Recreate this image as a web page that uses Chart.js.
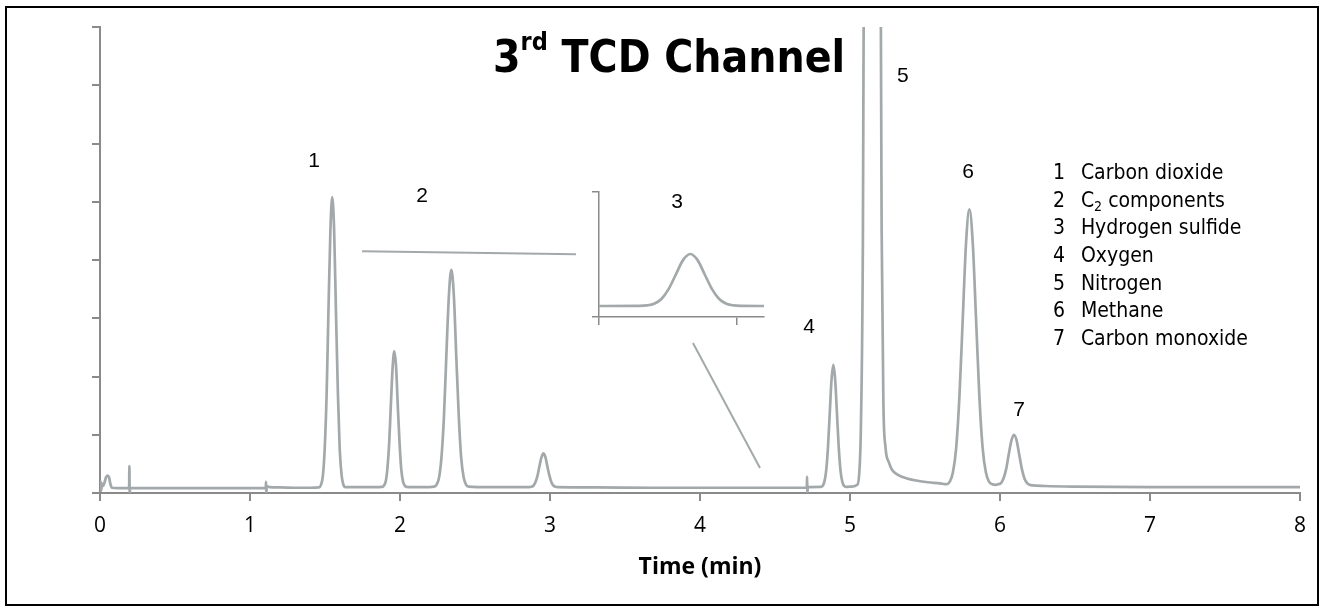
<!DOCTYPE html>
<html>
<head>
<meta charset="utf-8">
<script src="https://cdn.jsdelivr.net/npm/chart.js"></script>
<style>
  body { margin: 0; background: #fff; }
  #wrap { position: relative; width: 1323px; height: 610px; overflow: hidden; }
  #main { position: absolute; left: 0; top: 0; }
  #inset { position: absolute; left: 580px; top: 180px; }
  #frame { position: absolute; left: 5px; top: 6px; width: 1310px; height: 596px; border: 2px solid #000; pointer-events: none; }
  #title { position: absolute; left: 493px; top: 35px; font: bold 44px "DejaVu Sans"; line-height: 1; white-space: nowrap;
           transform: scaleX(0.9); transform-origin: left top; color: #000; }
  #title sup { font-size: 25px; vertical-align: 22px; line-height: 0; }
  #legend { position: absolute; left: 1053px; top: 159px; font: 21px "DejaVu Sans"; line-height: 27.7px; white-space: nowrap;
            transform: scaleX(0.9); transform-origin: left top; color: #000; }
  #legend .row { position: relative; height: 27.7px; }
  #legend .num { position: absolute; left: 0; }
  #legend .name { position: absolute; left: 31px; }
  #legend sub { font-size: 14px; vertical-align: -4px; line-height: 0; }
</style>
</head>
<body>
<div id="wrap">
  <canvas id="main" width="1323" height="610"></canvas>
  <canvas id="inset" width="200" height="160"></canvas>
  <div id="title">3<sup>rd</sup> TCD Channel</div>
  <div id="legend"></div>
  <div id="frame"></div>
</div>
<script>
// chromatogram trace, time in minutes, detector signal in axis units
var time = [
  0.000, 0.004, 0.008, 0.013, 0.020, 0.030, 0.040, 0.050, 0.060, 0.070, 0.080, 0.120,
  0.194, 0.196, 0.198, 0.200, 0.400, 0.700, 1.000,
  1.105, 1.107, 1.109, 1.111, 1.130, 1.200, 1.300, 1.400,
  // 1 carbon dioxide
  1.460, 1.473, 1.486, 1.498, 1.511, 1.523, 1.536, 1.548, 1.561, 1.573, 1.586, 1.598, 1.611, 1.623, 1.636, 1.750,
  // 2 C2 components
  1.882, 1.893, 1.905, 1.916, 1.928, 1.939, 1.951, 1.962, 1.974, 1.985, 1.997, 2.008, 2.020, 2.031, 2.043, 2.150,
  2.227, 2.243, 2.260, 2.276, 2.293, 2.309, 2.326, 2.342, 2.359, 2.375, 2.392, 2.408, 2.425, 2.441, 2.458, 2.600,
  // 3 hydrogen sulfide
  2.862, 2.875, 2.889, 2.902, 2.916, 2.929, 2.943, 2.956, 2.970, 2.983, 2.997, 3.010, 3.024, 3.037, 3.051,
  3.300, 3.700, 4.100, 4.500, 4.712, 4.714, 4.716, 4.718,
  // 4 oxygen
  4.805, 4.817, 4.829, 4.841, 4.853, 4.865, 4.877, 4.889, 4.901, 4.913, 4.925, 4.937, 4.949, 4.961, 4.973, 5.011,
  // 5 nitrogen
  5.048, 5.061, 5.073, 5.086, 5.098, 5.111, 5.123, 5.136, 5.148, 5.161, 5.173, 5.186, 5.198, 5.211, 5.223, 5.236,
  5.260, 5.280, 5.320, 5.380, 5.450, 5.520, 5.600,
  // 6 methane
  5.642, 5.664, 5.686, 5.708, 5.730, 5.752, 5.774, 5.796, 5.818, 5.840, 5.862, 5.884, 5.906, 5.928, 5.950,
  // 7 carbon monoxide
  5.971, 5.988, 6.006, 6.023, 6.041, 6.058, 6.076, 6.093, 6.111, 6.128, 6.146, 6.163, 6.181, 6.198, 6.216,
  6.300, 6.500, 7.000, 7.500, 8.000
];
var signal = [
  0.09, 0.20, 0.04, 0.16, 0.12, 0.18, 0.27, 0.30, 0.27, 0.15, 0.09, 0.085,
  0.085, 0.46, -0.02, 0.085, 0.085, 0.085, 0.085,
  0.085, 0.19, -0.03, 0.12, 0.10, 0.095, 0.09, 0.09,
  0.096, 0.14, 0.30, 0.76, 1.71, 3.12, 4.50, 5.08, 4.50, 3.12, 1.71, 0.76, 0.30, 0.14, 0.10, 0.10,
  0.105, 0.13, 0.20, 0.42, 0.86, 1.51, 2.16, 2.43, 2.16, 1.51, 0.86, 0.42, 0.20, 0.13, 0.105, 0.10,
  0.11, 0.14, 0.26, 0.60, 1.31, 2.36, 3.39, 3.83, 3.39, 2.36, 1.31, 0.60, 0.26, 0.14, 0.11, 0.10,
  0.10, 0.106, 0.125, 0.18, 0.29, 0.45, 0.61, 0.68, 0.61, 0.45, 0.29, 0.18, 0.125, 0.106, 0.10,
  0.095, 0.09, 0.09, 0.09, 0.09, 0.28, -0.03, 0.10,
  0.105, 0.12, 0.19, 0.38, 0.78, 1.37, 1.95, 2.20, 1.95, 1.37, 0.78, 0.38, 0.19, 0.12, 0.105, 0.11,
  0.14, 0.32, 1.19, 4.37, 13.2, 31.6, 58.9, 85.7, 97, 85.7, 58.9, 31.6, 13.3, 4.5, 1.5, 0.80,
  0.52, 0.40, 0.31, 0.25, 0.21, 0.185, 0.165,
  0.15, 0.19, 0.35, 0.78, 1.68, 3.01, 4.31, 4.87, 4.31, 3.01, 1.68, 0.78, 0.35, 0.19, 0.15,
  0.14, 0.15, 0.17, 0.25, 0.41, 0.66, 0.90, 1.00, 0.90, 0.66, 0.41, 0.25, 0.17, 0.14, 0.13,
  0.12, 0.11, 0.10, 0.10, 0.10
];

// the two guide lines pointing at the magnified peak
var guideA_x = [1.747, 3.173];
var guideA_y = [4.15, 4.10];
var guideB_x = [3.953, 4.400];
var guideB_y = [2.575, 0.43];

// peak numbers written on the plot
var peakNames = ['1', '2', '3', '4', '5', '6', '7'];
var peakNameTime = [1.427, 2.147, 3.847, 4.727, 5.353, 5.787, 6.127];
var peakNameLevel = [5.70, 5.10, 5.00, 2.85, 7.16, 5.50, 1.42];

var legendNames = ['Carbon dioxide', 'C<sub>2</sub> components', 'Hydrogen sulfide', 'Oxygen', 'Nitrogen', 'Methane', 'Carbon monoxide'];

// magnified view of peak 3
var insetTime = [0.000, 0.296, 0.349, 0.401, 0.454, 0.506, 0.559, 0.611, 0.664, 0.717, 0.769, 0.822, 0.874, 0.927, 0.979, 1.032, 1.210];
var insetSignal = [0.088, 0.089, 0.093, 0.106, 0.144, 0.223, 0.340, 0.455, 0.504, 0.455, 0.340, 0.223, 0.144, 0.106, 0.093, 0.089, 0.088];

var traceColor = '#a3a9aa';
var axisColor = '#8a8a8a';

document.getElementById('legend').innerHTML = legendNames.map(function (n, i) {
  return '<div class="row"><span class="num">' + (i + 1) + '</span><span class="name">' + n + '</span></div>';
}).join('');

function pts(xs, ys) {
  return xs.map(function (x, i) { return { x: x, y: ys[i] }; });
}

var peakLabelPlugin = {
  id: 'peakLabels',
  afterDatasetsDraw: function (chart) {
    var ctx = chart.ctx, x = chart.scales.x, y = chart.scales.y;
    ctx.save();
    ctx.font = '21px "Liberation Sans"';
    ctx.fillStyle = '#000';
    ctx.textAlign = 'center';
    ctx.textBaseline = 'middle';
    peakNames.forEach(function (n, i) {
      ctx.fillText(n, x.getPixelForValue(peakNameTime[i]), y.getPixelForValue(peakNameLevel[i]));
    });
    ctx.restore();
  }
};

new Chart(document.getElementById('main'), {
  type: 'line',
  data: {
    datasets: [{
      data: pts(time, signal),
      borderColor: traceColor,
      borderWidth: 2.7,
      pointRadius: 0,
      cubicInterpolationMode: 'monotone'
    }, {
      data: pts(guideA_x, guideA_y),
      borderColor: traceColor,
      borderWidth: 2,
      pointRadius: 0
    }, {
      data: pts(guideB_x, guideB_y),
      borderColor: traceColor,
      borderWidth: 2,
      pointRadius: 0
    }]
  },
  options: {
    responsive: false,
    animation: false,
    events: [],
    layout: { padding: { left: 92, right: 23, top: 27, bottom: 0 } },
    plugins: { legend: { display: false }, tooltip: { enabled: false } },
    scales: {
      x: {
        type: 'linear',
        min: 0,
        max: 8,
        afterFit: function (s) { s.height = 117; },
        ticks: { stepSize: 1, color: '#000', padding: 12, font: { family: 'Open Sans', size: 21 } },
        grid: { drawOnChartArea: false, tickLength: 8, color: axisColor, lineWidth: 2 },
        border: { color: axisColor, width: 2 },
        title: { display: true, text: 'Time (min)', color: '#000', font: { family: 'Open Sans', size: 23, weight: 'bold' }, padding: { top: 0, bottom: 29 } }
      },
      y: {
        min: 0,
        max: 8,
        afterFit: function (s) { s.width = 8; },
        ticks: { stepSize: 1, display: false },
        grid: { drawOnChartArea: false, tickLength: 8, color: axisColor, lineWidth: 2 },
        border: { color: axisColor, width: 2 }
      }
    }
  },
  plugins: [peakLabelPlugin]
});

new Chart(document.getElementById('inset'), {
  type: 'line',
  data: {
    datasets: [{
      data: pts(insetTime, insetSignal),
      borderColor: traceColor,
      borderWidth: 2.7,
      pointRadius: 0,
      cubicInterpolationMode: 'monotone'
    }]
  },
  options: {
    responsive: false,
    animation: false,
    events: [],
    layout: { padding: { left: 12, right: 16, top: 12, bottom: 0 } },
    plugins: { legend: { display: false }, tooltip: { enabled: false } },
    scales: {
      x: {
        type: 'linear',
        min: 0,
        max: 1.2,
        afterFit: function (s) { s.height = 23; },
        ticks: { stepSize: 1, display: false, includeBounds: false },
        grid: { drawOnChartArea: false, tickLength: 8, color: axisColor, lineWidth: 1.5 },
        border: { color: axisColor, width: 1.5 }
      },
      y: {
        min: 0,
        max: 1,
        afterFit: function (s) { s.width = 7; },
        ticks: { stepSize: 1, display: false },
        grid: { drawOnChartArea: false, tickLength: 7, color: axisColor, lineWidth: 1.5 },
        border: { color: axisColor, width: 1.5 }
      }
    }
  }
});
</script>
</body>
</html>
